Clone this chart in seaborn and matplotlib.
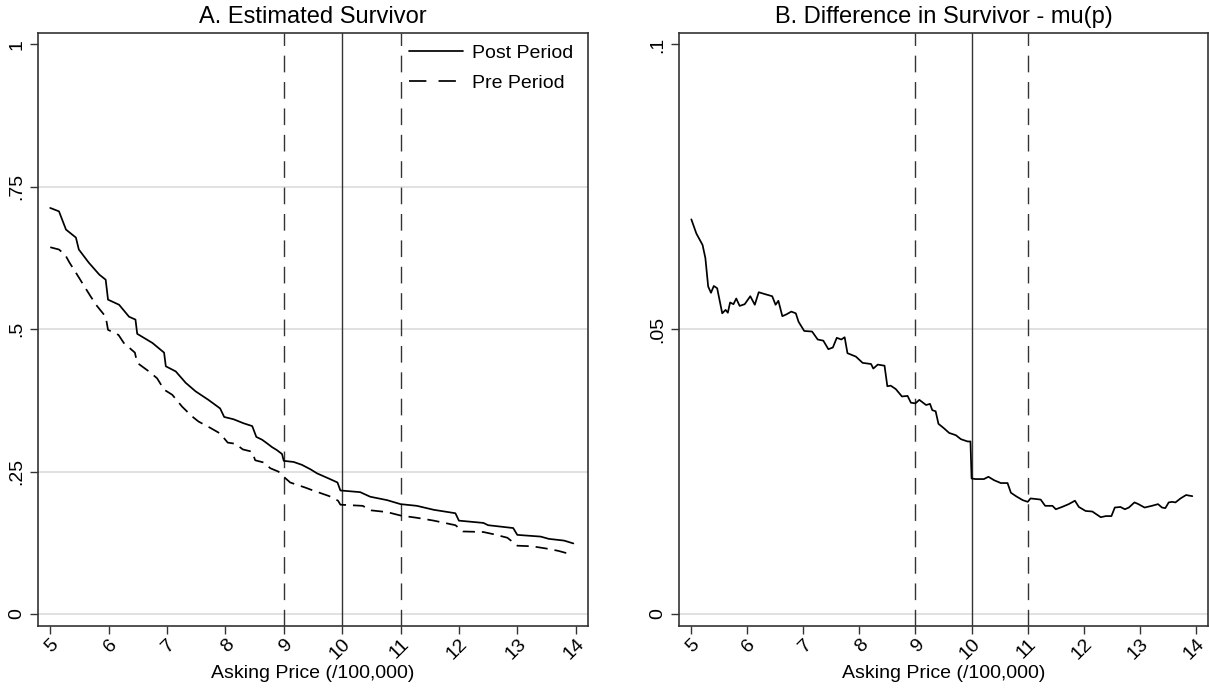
import matplotlib
matplotlib.use("Agg")
import matplotlib.pyplot as plt
import seaborn as sns
import pandas as pd
from matplotlib.lines import Line2D

# ---- Data ----
post_x = [5.00, 5.15, 5.27, 5.44, 5.49, 5.66, 5.84, 5.95, 5.99, 6.18, 6.35, 6.46, 6.49,
          6.75, 6.95, 6.98, 7.15, 7.32, 7.49, 7.71, 7.91, 7.98, 8.14, 8.31, 8.46, 8.53,
          8.63, 8.71, 8.80, 8.88, 8.97, 9.00, 9.17, 9.31, 9.46, 9.57, 9.77, 9.92, 9.97,
          10.31, 10.48, 10.77, 11.00, 11.28, 11.57, 11.94, 12.00, 12.42, 12.50, 12.93,
          13.00, 13.40, 13.54, 13.80, 13.96]
post_y = [.713, .707, .675, .661, .640, .617, .596, .587, .552, .543, .522, .517, .492,
          .476, .459, .435, .426, .406, .391, .376, .361, .346, .342, .335, .330, .311,
          .306, .300, .293, .288, .281, .269, .267, .262, .254, .247, .238, .231, .217,
          .214, .206, .200, .193, .190, .183, .177, .164, .160, .156, .151,
          .139, .136, .132, .129, .124]

pre_x = [5.00, 5.15, 5.26, 5.33, 5.46, 5.55, 5.69, 5.80, 5.95, 5.99, 6.17, 6.26, 6.45,
         6.49, 6.69, 6.83, 6.95, 7.09, 7.26, 7.43, 7.54, 7.74, 7.91, 8.04, 8.17, 8.30,
         8.46, 8.51, 8.66, 8.77, 8.91, 9.00, 9.11, 9.37, 9.50, 9.78, 9.93, 9.97, 10.35,
         10.50, 10.77, 11.00, 11.28, 11.57, 11.94, 12.07, 12.42, 12.60, 12.83, 13.00,
         13.25, 13.50, 13.70, 13.95]
pre_y = [.644, .640, .630, .617, .596, .581, .558, .541, .522, .499, .490, .476, .459,
         .441, .426, .414, .394, .385, .364, .347, .338, .327, .317, .301, .299, .289,
         .285, .270, .266, .256, .250, .241, .231, .222, .217, .207, .199, .192, .190,
         .182, .179, .173, .169, .164, .156, .145, .144, .140, .134, .120,
         .119, .115, .111, .104]

diff_x = [5.01, 5.10, 5.21, 5.26, 5.31, 5.36, 5.41, 5.47, 5.56, 5.62, 5.66, 5.70, 5.76,
          5.81, 5.87, 5.96, 6.06, 6.14, 6.21, 6.31, 6.45, 6.51, 6.56, 6.63, 6.70, 6.79,
          6.87, 6.92, 7.02, 7.16, 7.26, 7.36, 7.45, 7.53, 7.60, 7.68, 7.74, 7.79, 7.94,
          8.06, 8.21, 8.25, 8.33, 8.45, 8.50, 8.56, 8.65, 8.76, 8.86, 8.92, 9.00, 9.07,
          9.19, 9.26, 9.30, 9.36, 9.41, 9.51, 9.60, 9.72, 9.81, 9.93, 9.98, 10.00, 10.07,
          10.22, 10.30, 10.40, 10.52, 10.64, 10.70, 10.79, 10.91, 11.00, 11.05, 11.23,
          11.31, 11.44, 11.50, 11.61, 11.73, 11.84, 11.91, 12.03, 12.15, 12.30, 12.39,
          12.49, 12.55, 12.65, 12.73, 12.80, 12.90, 12.97, 13.08, 13.21, 13.32, 13.39,
          13.45, 13.51, 13.57, 13.63, 13.72, 13.82, 13.87, 13.93]
diff_y = [.0693, .0668, .0648, .0625, .0575, .0564, .0576, .0572, .0528, .0534, .0529,
          .0547, .0544, .0554, .0541, .0544, .0558, .0543, .0565, .0562, .0558, .0543,
          .0550, .0523, .0526, .0531, .0528, .0513, .0497, .0496, .0482, .0480, .0465,
          .0468, .0485, .0482, .0486, .0458, .0452, .0441, .0439, .0431, .0438, .0436,
          .0400, .0401, .0395, .0382, .0383, .0371, .0370, .0376, .0367, .0369, .0358,
          .0356, .0334, .0326, .0318, .0314, .0307, .0303, .0303, .0238, .0237, .0237,
          .0241, .0235, .0230, .0230, .0213, .0207, .0200, .0197, .0203, .0201, .0190,
          .0190, .0184, .0188, .0193, .0199, .0188, .0181, .0180, .0170, .0172, .0172,
          .0187, .0188, .0184, .0187, .0196, .0193, .0187, .0190, .0193, .0187, .0186,
          .0196, .0197, .0196, .0203, .0209, .0208, .0207]

x_ticks = [5, 6, 7, 8, 9, 10, 11, 12, 13, 14]
a_yticks = [0, .25, .5, .75, 1]
a_ylabels = ["0", ".25", ".5", ".75", "1"]
b_yticks = [0, .05, .1]
b_ylabels = ["0", ".05", ".1"]
vlines_dashed = [9, 11]
vline_solid = [10]

title_a = "A. Estimated Survivor"
title_b = "B. Difference in Survivor - mu(p)"
xlabel = "Asking Price (/100,000)"
legend_labels = ["Post Period", "Pre Period"]

# ---- Style ----
sns.set_style("white")
plt.rcParams['font.family'] = ['Liberation Sans', 'DejaVu Sans']
plt.rcParams['text.color'] = 'black'
plt.rcParams['xtick.color'] = 'black'
plt.rcParams['ytick.color'] = 'black'
plt.rcParams['axes.labelcolor'] = 'black'

fig = plt.figure(figsize=(12.09, 6.88), dpi=100)
axA = fig.add_axes([0.0314, 0.0901, 0.4549, 0.8624])
axB = fig.add_axes([0.5616, 0.0901, 0.4376, 0.8624])

SPINE = "#333333"
GRID = "#dedede"
LW = 1.25
PRE_DASH = (0, (7, 4))

post_df = pd.DataFrame({"x": post_x, "y": post_y})
pre_df = pd.DataFrame({"x": pre_x, "y": pre_y})
diff_df = pd.DataFrame({"x": diff_x, "y": diff_y})


def style_axes(ax, yticks, ylabels, ylim, grid_ticks):
    ax.set_xlim(4.79, 14.21)
    ax.set_ylim(*ylim)
    for g in grid_ticks:
        ax.axhline(g, color=GRID, lw=1.3, zorder=0)
    for v in vlines_dashed:
        ax.axvline(v, color=SPINE, lw=1.0, linestyle=(0, (12, 7)), zorder=1)
    for v in vline_solid:
        ax.axvline(v, color=SPINE, lw=1.0, zorder=1)
    ax.set_xticks(x_ticks)
    ax.set_xticklabels([str(t) for t in x_ticks], rotation=45, ha="right",
                       rotation_mode="anchor", fontsize=14)
    ax.set_yticks(yticks)
    ax.set_yticklabels(ylabels, rotation=90, va="center", fontsize=14)
    ax.tick_params(axis="both", which="both", direction="out", length=6,
                   width=1.0, color=SPINE, left=True, bottom=True, pad=3)
    ax.tick_params(axis="x", pad=1)
    ax.set_xlabel(xlabel, fontsize=14, labelpad=1)
    ax.set_ylabel("")
    for s in ax.spines.values():
        s.set_color(SPINE)
        s.set_linewidth(1.2)


# Panel A
sns.lineplot(data=post_df, x="x", y="y", ax=axA, color="black", lw=LW,
             estimator=None, sort=False, zorder=3)
sns.lineplot(data=pre_df, x="x", y="y", ax=axA, color="black", lw=LW,
             linestyle=PRE_DASH, estimator=None, sort=False, zorder=3)
style_axes(axA, a_yticks, a_ylabels, (-0.021, 1.0207), [0, .25, .5, .75])
axA.set_title(title_a, fontsize=17, pad=7)
handles = [Line2D([], [], color="black", lw=LW),
           Line2D([], [], color="black", lw=LW, linestyle=(0, (10, 7)))]
axA.legend(handles, legend_labels, loc="upper right", frameon=False, fontsize=14,
           handlelength=2.8, handletextpad=0.45, labelspacing=0.65,
           bbox_to_anchor=(1.005, 1.01))

# Panel B
sns.lineplot(data=diff_df, x="x", y="y", ax=axB, color="black", lw=LW,
             estimator=None, sort=False, zorder=3)
style_axes(axB, b_yticks, b_ylabels, (-0.0021, 0.10207), [0, .05])
axB.set_title(title_b, fontsize=17, pad=7)

fig.savefig("out.png", dpi=100)
